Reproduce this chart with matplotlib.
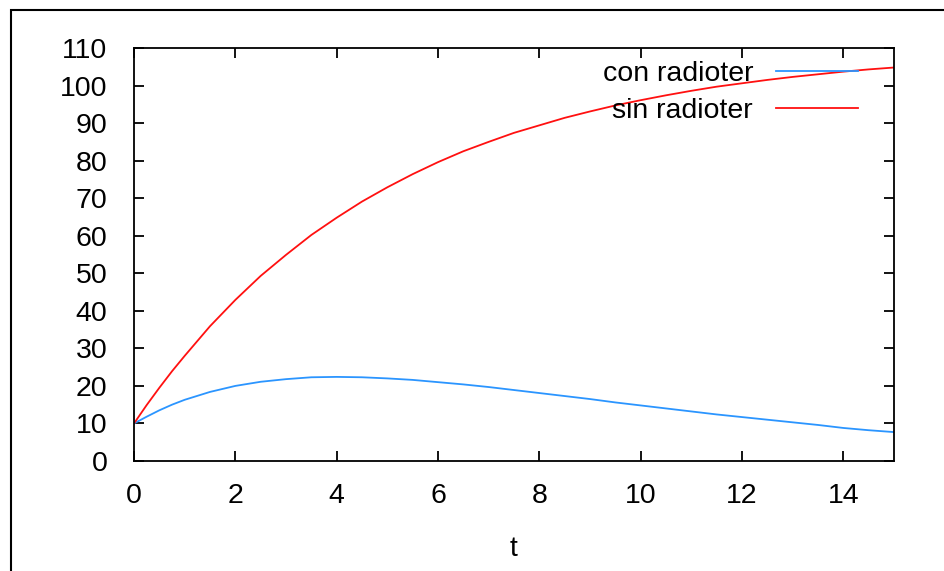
import numpy as np
import matplotlib.pyplot as plt
from matplotlib.patches import Rectangle

t = [0, 0.25, 0.5, 0.75, 1, 1.5, 2, 2.5, 3, 3.5, 4, 4.5, 5, 5.5, 6, 6.5, 7, 7.5,
     8, 8.5, 9, 9.5, 10, 10.5, 11, 11.5, 12, 12.5, 13, 13.5, 14, 14.5, 15]
con_radioter = [10, 11.8, 13.5, 15, 16.3, 18.4, 20, 21.1, 21.8, 22.3, 22.4, 22.3,
                22, 21.6, 21, 20.4, 19.7, 18.9, 18.1, 17.3, 16.5, 15.6, 14.8, 14,
                13.2, 12.4, 11.7, 11, 10.3, 9.6, 8.8, 8.2, 7.7]
sin_radioter = [10, 14.9, 19.5, 23.9, 28, 35.9, 42.9, 49.3, 54.9, 60.2, 64.8,
                69.1, 72.9, 76.4, 79.6, 82.5, 85, 87.4, 89.4, 91.4, 93.1, 94.7,
                96.1, 97.4, 98.6, 99.7, 100.6, 101.5, 102.3, 103, 103.7, 104.3,
                104.8]
xticks = [0, 2, 4, 6, 8, 10, 12, 14]
yticks = [0, 10, 20, 30, 40, 50, 60, 70, 80, 90, 100, 110]

plt.rcParams['font.family'] = ['Liberation Sans', 'DejaVu Sans']

fig = plt.figure(figsize=(9.44, 5.71), dpi=100)
ax = fig.add_axes([134/944, 1-461/571, (894-134)/944, (461-48)/571])

ax.plot(t, con_radioter, color='#2b95ff', lw=1.3, label='con radioter')
ax.plot(t, sin_radioter, color='#ff1010', lw=1.3, label='sin radioter')

ax.set_xlim(0, 15)
ax.set_ylim(0, 110)
ax.set_xticks(xticks)
ax.set_yticks(yticks)
ax.tick_params(direction='in', top=True, right=True, length=7, width=1.3,
               labelsize=20.5, colors='black')
ax.tick_params(axis='x', pad=16)
ax.tick_params(axis='y', pad=19)
for s in ax.spines.values():
    s.set_linewidth(1.3)
ax.set_xlabel('t', fontsize=20.5, labelpad=19)

ax.legend(loc='upper right', markerfirst=False, frameon=False, fontsize=20.5,
          handlelength=2.9, handletextpad=0.8, labelspacing=0.38,
          bbox_to_anchor=(0.970, 1.0), borderaxespad=0.05)

# outer frame (cut off at right and bottom)
fig.patches.append(Rectangle((11/944, -0.1), 2, 0.1 + (571-10)/571,
                             transform=fig.transFigure, fill=False,
                             edgecolor='black', lw=1.5))

fig.savefig('out.png', dpi=100)
